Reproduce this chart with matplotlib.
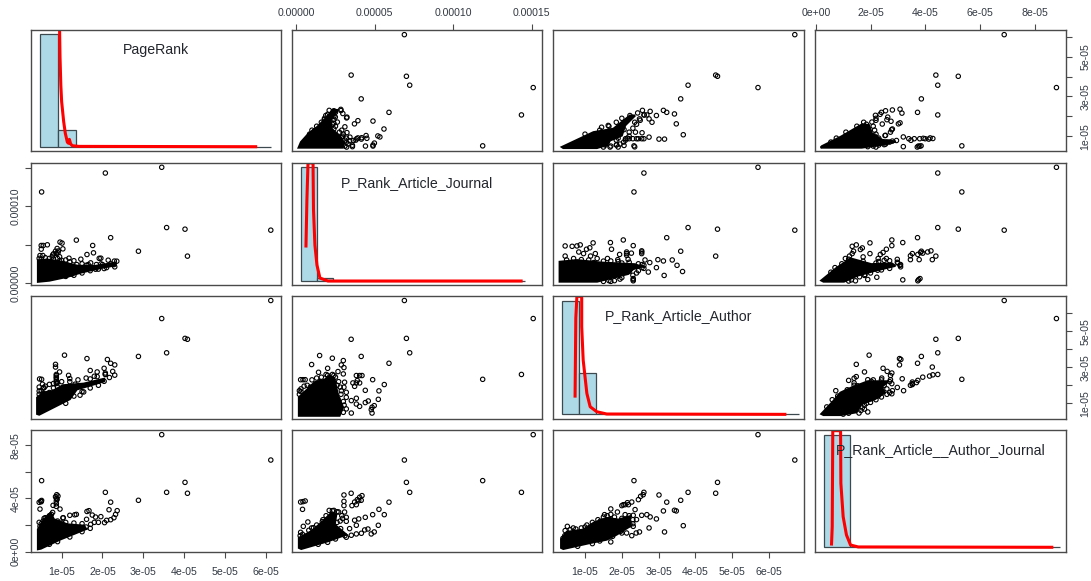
import matplotlib
matplotlib.use('Agg')
import matplotlib.pyplot as plt

plt.rcParams['font.family'] = ['Liberation Sans', 'DejaVu Sans']

W, H = 1091, 581

# all values are in units of 1e-05
names = ['PageRank', 'P_Rank_Article_Journal', 'P_Rank_Article_Author', 'P_Rank_Article__Author_Journal']

# the outlying articles, same order in every column
pagerank = [6.12, 3.45, 2.07, 0.51, 4.08, 4.02, 3.57, 2.88, 2.20]
p_journal = [6.89, 15.1, 14.35, 11.88, 3.50, 7.02, 7.23, 4.14, 5.91]
p_author = [6.70, 5.70, 2.60, 2.33, 4.55, 4.60, 3.80, 3.60, 3.22]
p_auth_journal = [6.89, 8.80, 4.46, 5.34, 4.39, 5.21, 4.46, 3.86, 3.72]

# remaining loose points, per pair of variables
pr_j_a = [1.36, .96, 1.01, .65, .50, .55, .50, 1.76, 1.03, 1.78, 1.62, 1.18, 1.47, 1.96, .47, .54, 2.35, 2.14, 2.28,
          2.04, 1.83, .89, .85, .80, .91, .77, 1.96, 1.71, 1.65, 1.37, 1.18, .92, .87, .95, .45, .78, .95, 2.29, 1.92,
          1.3, 1.5, 1.7, 1.9, 2.1, 2.3, 1.1, .7, .8, .6, 1.0, 1.2, 1.5, .5, .9, 2.0, 2.2, 1.6, 1.85, 1.1, 1.3, 1.25]
pr_j_b = [5.59, 5.33, 5.20, 4.98, 4.89, 4.89, 4.41, 4.89, 4.45, 3.93, 3.71, 3.23, 3.10, 3.23, 3.58, 3.58, 2.84, 2.97, 2.40,
          1.88, 1.79, 4.50, 4.15, 3.80, 3.93, 3.41, 2.49, 2.62, 2.40, 2.40, 1.53, 4.17, 3.85, 3.42, 3.21, 3.64, 2.89, 2.85, 3.21,
          1.0, 1.3, 1.6, 1.8, 2.0, 2.1, .85, 3.2, 3.1, 3.3, 2.95, 2.75, 2.5, 3.1, 3.2, 2.4, 2.5, 2.3, 2.4, 3.0, 2.9, 1.15]

pr_a_a = [1.62, 1.07, 2.30, 2.12, 2.04, 2.25, 2.30, 2.17, 2.07, 2.07, 1.87, 1.70, 1.87, 1.70, .95, .85, .85, 1.20, 1.17,
          1.33, .46, .53, .57, .45, 1.54, 1.45, 2.04, .87, .87, .87, .87, .87, .87, .87,
          .45, .5, .55, .6, .45, .7, .8, .9, 1.0, 1.2, 1.4, 1.6, 1.8, 1.1, 1.3, 1.5, 1.7, 1.9, .6, .7, .8, .5, .9, 1.0, .7, .55]
pr_a_b = [3.48, 3.67, 3.13, 3.43, 2.94, 2.77, 2.56, 2.43, 2.61, 2.68, 2.74, 2.82, 2.48, 2.35, 2.74, 3.01, 3.16, 2.37, 2.55,
          2.06, 2.35, 2.06, 1.86, 1.68, 1.63, 1.45, 2.22, 2.40, 2.54, 2.10, 2.20, 2.30, 2.45, 2.60,
          1.5, 1.7, 1.85, 1.95, 1.9, 2.05, 2.1, 2.15, 2.2, 2.2, 2.3, 2.4, 2.5, 1.0, 1.4, 1.65, 1.85, 2.0, 1.4, 1.6, 1.85, 1.3, 1.9, 1.7, 1.4, 1.55]

pr_aj_a = [.47, .49, .51, .79, .85, .91, .88, .89, .96, 1.36, 1.20, 1.04, .75, .57, 1.67, 1.75, 2.16, 2.36, 2.32, 2.28,
           2.05, 1.96, 1.83, 1.61, 1.71, .87, .87, .87, .87, .45, .50, .47, .55, .45, .50, 1.62, 1.32, 1.03, .78, .70,
           .6, .7, .65, .9, 1.0, 1.1, 1.3, 1.5, 1.6, 1.8, 1.9, 2.1, 2.2, 1.5, 1.2, .9, 1.7, .7]
pr_aj_b = [3.20, 3.80, 3.85, 3.48, 4.13, 4.18, 4.28, 3.93, 3.20, 2.80, 2.73, 2.55, 2.80, 2.50, 3.08, 2.75, 3.15, 3.08, 2.80, 2.55,
           2.18, 2.63, 2.60, 2.43, 2.05, 3.40, 3.60, 3.80, 4.00, 3.71, 2.10, 1.90, 2.30, 2.20, 3.75, 3.02, 2.77, 2.53, 2.95, 2.70,
           2.55, 2.6, 2.3, 2.3, 2.15, 2.2, 2.15, 2.1, 1.85, 2.2, 2.2, 2.35, 2.4, 1.5, 1.1, .75, 1.75, .55]

j_a_a = [1.49, 2.30, .98, 3.00, 2.87, 3.04, 2.00, 1.42, 3.00, 2.66, .28, .43, .57, .30, 4.87, 5.61, 5.27, 4.40, 5.23,
         4.97, 4.83, 4.78, 4.83, 4.59, 4.40, 3.83, 4.19, 3.83, 4.04, 3.72, 4.04, 3.61, 3.89, 3.08, 3.04, 3.19, 2.87, 3.19,
         3.51, 3.83, 3.83, 3.51, 3.19, 4.04, 2.66,
         .2, .2, .3, .5, .7, 1.0, 1.3, 1.6, 1.9, 2.3, 2.5, 2.7, 2.8, 2.85, 3.0, 3.05, 3.0, 2.4, 2.0, 1.5, 2.6, .9]
j_a_b = [3.65, 3.50, 3.15, 3.37, 3.13, 2.98, 2.94, 2.72, 2.63, 2.76, 2.31, 2.31, 2.31, 1.65, 2.31, 2.04, 1.69, 1.72, 1.22,
         .87, .78, .65, .46, 1.13, 1.04, 2.54, 2.54, 2.13, 2.54, 1.94, 2.13, 2.13, 2.26, 2.17, 1.89, 1.61, 1.70, 1.33,
         1.15, 1.28, .96, .46, .69, .83, 1.24,
         1.5, 1.7, 1.8, 1.95, 2.0, 2.3, 2.4, 2.45, 2.6, 2.6, 2.45, 2.2, 1.9, 1.5, 1.1, .9, .5, 2.55, 2.55, 2.2, 2.0, 1.9]

j_aj_a = [3.04, 3.04, 3.04, .28, .43, .57, .40, 4.19, 4.04, 3.89, 3.72, 3.83, 3.55, 3.98, 5.27, 4.87, 4.40, 5.61, 5.23, 3.98,
          3.72, 3.83, 4.57, 4.36, 4.97, 4.78, 4.15, 3.83, 3.51, 3.19, .74, .45, .28, .98, 1.66, 2.30, 2.70, 3.19, 3.08, 3.19, 2.83, 3.40,
          2.6, 2.4, 2.1, 1.9, 1.7, 1.3, 1.1, .8, .4, .25, 2.9, 2.95, 2.8, 2.6, 2.7, 3.1, 2.5, 2.0, 1.4]
j_aj_b = [4.26, 3.78, 3.46, 3.73, 3.76, 3.81, 3.18, 4.21, 4.09, 3.91, 3.73, 3.53, 3.46, 3.83, 3.18, 2.78, 2.58, 2.78, 1.98, 2.46,
          2.36, 1.98, 1.70, 1.63, 1.48, 1.33, 1.38, 1.33, 1.23, 1.08, 2.23, 1.90, 1.45, 1.78, 2.26, 3.08, 2.98, 2.58, 2.98, 2.28, 1.73, 1.73,
          3.0, 3.1, 3.1, 2.7, 2.4, 2.0, 1.8, 1.6, 1.3, 1.2, 2.7, 2.5, 2.3, 2.2, 1.3, 1.2, .95, .7, .55]

a_aj_a = [3.01, 3.43, 3.48, 3.13, 2.94, 3.67, 3.16, 2.74, 2.48, 2.39, 2.77, 2.68, 2.54, 2.36, 2.09, 2.00, 2.15, 2.27, 2.45, 2.51, 2.58,
          1.70, 1.88, 1.53, 2.09, 2.31, .52, .68, .90, .46, 1.70, 2.27, 2.13, 1.97, 1.68, 1.41, 2.40, 2.22, 2.31, 2.18, 2.04,
          .4, .45, .6, .75, 1.0, 1.2, 1.35, 1.5, 1.6, 1.8, 2.0, 2.2, 2.3, 1.05, 2.3, 2.0, 1.75, 1.4, 1.2, .8, 1.7]
a_aj_b = [4.26, 3.11, 3.06, 3.06, 2.46, 1.95, 1.48, 1.78, 1.48, 1.40, 2.61, 2.78, 2.73, 3.16, 3.53, 3.46, 3.68, 3.73, 3.91, 4.16, 4.28,
          3.21, 2.98, 2.78, 2.78, 2.73, 1.90, 1.78, 1.78, 1.58, .73, 1.20, 1.40, 1.53, 2.41, 2.28, 2.41, 2.03, 1.90, 3.53, 3.53,
          1.0, 1.2, 1.65, 1.7, 1.85, 2.2, 2.4, 2.6, 2.7, 2.6, 2.5, 2.7, 2.4, 2.0, 2.1, 1.4, 1.15, .8, .6, .4, 2.8]

# outline of the solid black mass of overplotted points, per pair
pr_j_mass_a = [.42, .42, .65, .93, 1.38, 1.80, 2.32, 2.32, 1.96, 1.47, 1.14, .70]
pr_j_mass_b = [.15, 2.95, 3.05, 2.85, 2.25, 2.20, 2.65, 2.30, 1.95, 1.35, .80, .30]
pr_a_mass_a = [.45, 1.20, 1.37, 2.04, 2.04, 1.54, 1.03, .78, .55, .40, .40]
pr_a_mass_b = [.37, 1.23, 1.77, 2.22, 2.36, 2.09, 2.00, 1.68, 1.60, 1.32, .41]
pr_aj_mass_a = [.42, .42, .57, .73, .81, 1.14, 1.55, 1.60, .98, .49]
pr_aj_mass_b = [.18, 1.68, 2.43, 2.93, 2.43, 2.05, 1.95, 1.70, .93, .22]
j_a_mass_a = [.17, .17, .74, 1.17, 1.81, 2.13, 2.44, 2.66, 2.98, 2.76]
j_a_mass_b = [.31, 1.33, 1.80, 2.17, 2.31, 2.54, 2.35, 1.43, .78, .31]
j_aj_mass_a = [.17, .17, .96, 1.59, 2.23, 2.55, 2.45, 3.19, 2.02, .32]
j_aj_mass_b = [.28, 1.03, 1.53, 2.16, 2.91, 2.78, 2.03, 1.28, .78, .20]
a_aj_mass_a = [.35, .35, .50, .95, 1.23, 1.59, 1.91, 2.22, 2.22, 1.86, 1.59, 1.14, .41]
a_aj_mass_b = [.28, .90, 1.48, 1.65, 2.16, 2.53, 2.41, 2.66, 1.90, 1.28, .90, .65, .20]

# histograms on the diagonal (first edge, bin width, bar heights)
hist_start = [0.47, 0.30, 0.38, 0.30]
hist_width = [0.435, 1.02, 0.46, 0.96]
hist_counts = [
    [1000, 145, 0, 0, 0, 0, 0, 0, 0, 0, 0, 0, 0],
    [1000, 30, 0, 0, 0, 0, 0, 0, 0, 0, 0, 0, 0, 0],
    [1000, 367, 0, 0, 0, 0, 0, 0, 0, 0, 0, 0, 0, 0],
    [1000, 0, 0, 0, 0, 0, 0, 0, 0],
]

# density curves, they run off the top of the panel
dens_x = [
    [.95, .96, .98, 1.00, 1.05, 1.09, 1.14, 1.17, 1.19, 1.22, 1.26, 1.42, 5.75],
    [.62, .68, .75, 1.07, 1.10, 1.19, 1.32, 1.51, 2.02, 14.33],
    [.73, .75, .78, .91, .91, .95, 1.05, 1.14, 1.32, 1.59, 6.43],
    [.575, .60, .62, .905, .916, 1.00, 1.12, 1.27, 1.55, 8.63],
]
dens_y = [
    [1035, 800, 547, 400, 222, 119, 40, 30, 65, 25, 9, 3, 0],
    [307, 711, 1035, 1035, 623, 316, 140, 26, 0, 0],
    [161, 850, 1044, 1038, 773, 479, 185, 67, 23, 3, 0],
    [29, 183, 1038, 1038, 570, 272, 110, 20, 3, 0],
]

# axis limits and ticks of each variable
lims = [(.25, 6.37), (-.27, 15.66), (.13, 6.95), (-.03, 9.15)]
hist_lims = [(-38, 1038), (-35, 1035), (-41, 1044), (-42, 1044)]
bottom_ticks = {0: [1, 2, 3, 4, 5, 6], 2: [1, 2, 3, 4, 5, 6]}
bottom_labels = ['1e-05', '2e-05', '3e-05', '4e-05', '5e-05', '6e-05']
top_ticks = {1: [0, 5, 10, 15], 3: [0, 2, 4, 6, 8]}
top_labels = {1: ['0.00000', '0.00005', '0.00010', '0.00015'], 3: ['0e+00', '2e-05', '4e-05', '6e-05', '8e-05']}
left_ticks = {1: [0, 5, 10, 15], 3: [0, 2, 4, 6, 8]}
left_labels = {1: ['0.00000', '', '0.00010', ''], 3: ['0e+00', '', '4e-05', '', '8e-05']}
right_ticks = {0: [1, 2, 3, 4, 5, 6], 2: [1, 2, 3, 4, 5, 6]}
right_labels = ['1e-05', '', '3e-05', '', '5e-05', '']

column_px = [(31, 281), (292, 542), (553, 804), (815, 1066)]
row_px = [(29.7, 151), (163, 285), (296, 419), (430, 552)]

points = [pagerank, p_journal, p_author, p_auth_journal]
loose = {
    (0, 1): (pr_j_a, pr_j_b), (0, 2): (pr_a_a, pr_a_b), (0, 3): (pr_aj_a, pr_aj_b),
    (1, 2): (j_a_a, j_a_b), (1, 3): (j_aj_a, j_aj_b), (2, 3): (a_aj_a, a_aj_b),
}
mass = {
    (0, 1): (pr_j_mass_a, pr_j_mass_b), (0, 2): (pr_a_mass_a, pr_a_mass_b), (0, 3): (pr_aj_mass_a, pr_aj_mass_b),
    (1, 2): (j_a_mass_a, j_a_mass_b), (1, 3): (j_aj_mass_a, j_aj_mass_b), (2, 3): (a_aj_mass_a, a_aj_mass_b),
}

fig = plt.figure(figsize=(W / 100, H / 100), dpi=100)
frame_col = '#4a4a4a'
text_col = '#333a44'

for row in range(4):
    for col in range(4):
        x0, x1 = column_px[col]
        y0, y1 = row_px[row]
        ax = fig.add_axes([x0 / W, 1 - y1 / H, (x1 - x0) / W, (y1 - y0) / H])
        for s in ax.spines.values():
            s.set_color(frame_col)
            s.set_linewidth(1.0)
        ax.set_xticks([])
        ax.set_yticks([])
        ax.set_xlim(*lims[col])

        if row == col:
            ax.set_ylim(*hist_lims[row])
            counts = hist_counts[row]
            left = [hist_start[row] + hist_width[row] * i for i in range(len(counts))]
            ax.bar(left, counts, width=hist_width[row], align='edge', color='lightblue', edgecolor='#3c4a50', linewidth=0.9)
            ax.plot(dens_x[row], dens_y[row], color='red', lw=2.2)
            ax.text(0.5, 0.836, names[row], transform=ax.transAxes, ha='center', va='center', fontsize=10.2, color='#22262c')
        else:
            ax.set_ylim(*lims[row])
            a, b = min(row, col), max(row, col)
            la, lb = loose[(a, b)]
            ma, mb = mass[(a, b)]
            xs = list(points[col]) + (la if col == a else lb)
            ys = list(points[row]) + (la if row == a else lb)
            ax.fill(ma if col == a else mb, ma if row == a else mb, color='black', lw=1.5)
            ax.scatter(xs, ys, s=10, facecolors='none', edgecolors='black', linewidths=0.8)

        tick_args = dict(length=4.5, width=0.8, color=frame_col, labelcolor=text_col, labelsize=7.6)
        if row == 3 and col in bottom_ticks:
            ax.set_xticks(bottom_ticks[col])
            ax.set_xticklabels(bottom_labels)
            ax.tick_params(axis='x', pad=6, **tick_args)
        if row == 0 and col in top_ticks:
            ax.xaxis.tick_top()
            ax.set_xticks(top_ticks[col])
            ax.set_xticklabels(top_labels[col])
            ax.tick_params(axis='x', pad=4, **tick_args)
        if col == 0 and row in left_ticks:
            ax.set_yticks(left_ticks[row])
            ax.set_yticklabels(left_labels[row], rotation=90, va='center')
            ax.tick_params(axis='y', pad=3, **tick_args)
        if col == 3 and row in right_ticks:
            ax.yaxis.tick_right()
            ax.set_yticks(right_ticks[row])
            ax.set_yticklabels(right_labels, rotation=90, va='center')
            ax.tick_params(axis='y', pad=6, **tick_args)

fig.savefig('out.png', dpi=100)
